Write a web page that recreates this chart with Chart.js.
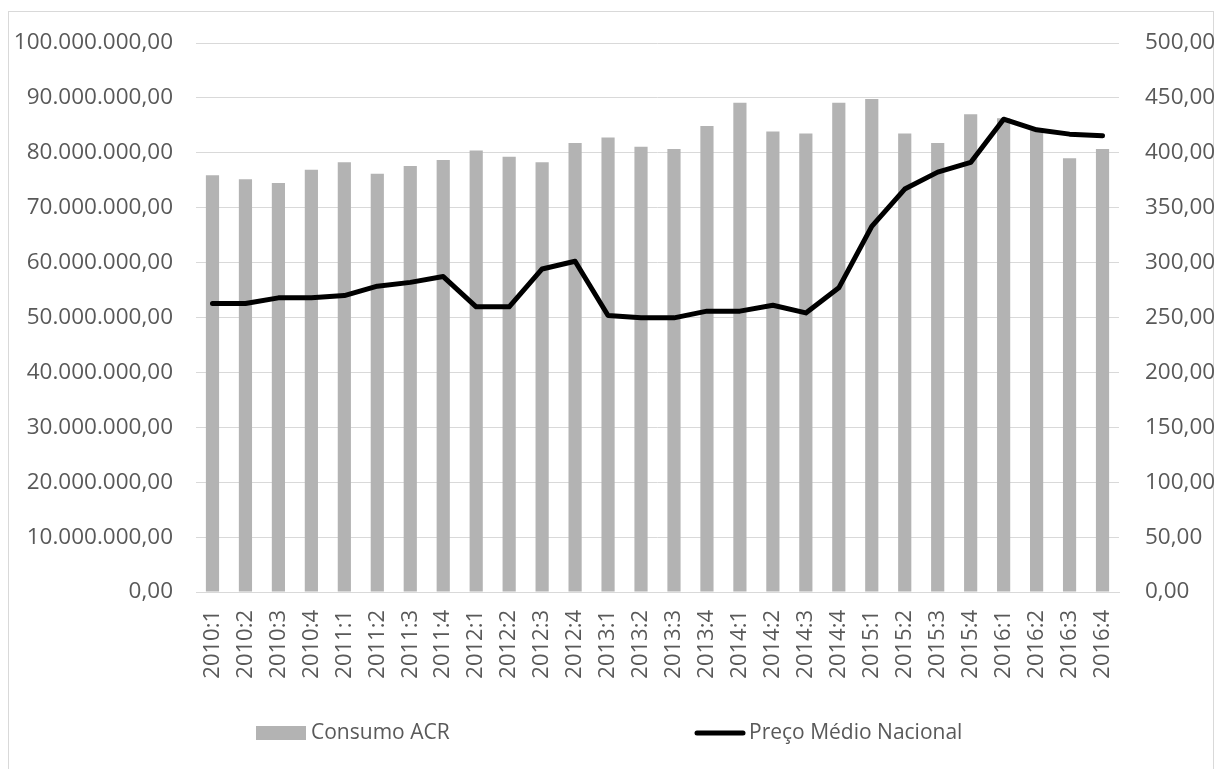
<!DOCTYPE html>
<html>
<head>
<meta charset="utf-8">
<script src="https://cdn.jsdelivr.net/npm/chart.js@4.4.1/dist/chart.umd.min.js"></script>
<style>
  html, body { margin: 0; padding: 0; background: #ffffff; }
  #wrap { width: 1216px; height: 769px; position: relative; }
</style>
</head>
<body>
<div id="wrap"><canvas id="c" width="1216" height="769"></canvas></div>
<script>
const categories = ["2010:1","2010:2","2010:3","2010:4","2011:1","2011:2","2011:3","2011:4",
  "2012:1","2012:2","2012:3","2012:4","2013:1","2013:2","2013:3","2013:4",
  "2014:1","2014:2","2014:3","2014:4","2015:1","2015:2","2015:3","2015:4",
  "2016:1","2016:2","2016:3","2016:4"];
const consumoACR = [75900000,75200000,74500000,76900000,78300000,76200000,77600000,78700000,
  80400000,79300000,78300000,81800000,82800000,81100000,80700000,84900000,
  89100000,83900000,83500000,89100000,89800000,83500000,81800000,87000000,
  86300000,84100000,79000000,80700000];
const precoMedio = [262.7,262.7,267.9,267.9,270.0,278.5,282.0,287.3,
  259.7,259.7,294.2,301.2,251.8,249.7,249.7,255.8,
  255.8,261.2,254.2,277.0,333.0,367.0,382.4,391.2,
  430.6,420.9,417.0,415.5];
const seriesNames = ["Consumo ACR", "Preço Médio Nacional"];
const leftTicks = { min: 0, max: 100000000, step: 10000000 };
const rightTicks = { min: 0, max: 500, step: 50 };

const BAR_COLOR = "#b3b3b3";
const TEXT_COLOR = "#595959";
const GRID_COLOR = "#d9d9d9";
const FONT = "'Open Sans', 'Noto Sans', sans-serif";

function fmtBR(v) {
  const neg = v < 0; v = Math.abs(v);
  const fixed = v.toFixed(2);
  let [ip, dp] = fixed.split(".");
  ip = ip.replace(/\B(?=(\d{3})+(?!\d))/g, ".");
  return (neg ? "-" : "") + ip + "," + dp;
}

const framePlugin = {
  id: "frame",
  beforeDraw(chart) {
    const ctx = chart.ctx;
    ctx.save();
    ctx.fillStyle = "#ffffff";
    ctx.fillRect(0, 0, chart.width, chart.height);
    ctx.strokeStyle = GRID_COLOR;
    ctx.lineWidth = 1;
    ctx.strokeRect(8.5, 11.5, 1205, 800);
    ctx.restore();
  },
  afterDraw(chart) {
    const ctx = chart.ctx;
    const ds = chart.data.datasets;
    ctx.save();
    ctx.font = "21px " + FONT;
    ctx.fillStyle = TEXT_COLOR;
    ctx.textBaseline = "middle";
    ctx.textAlign = "left";
    const y = 733;
    // bar item
    ctx.fillStyle = ds[1].backgroundColor;
    ctx.fillRect(256, y - 7, 50, 14);
    ctx.fillStyle = TEXT_COLOR;
    ctx.fillText(ds[1].label, 311, y);
    // line item
    ctx.strokeStyle = ds[0].borderColor;
    ctx.lineWidth = 5;
    ctx.lineCap = "round";
    ctx.beginPath();
    ctx.moveTo(697, y);
    ctx.lineTo(743, y);
    ctx.stroke();
    ctx.fillText(ds[0].label, 749, y);
    ctx.restore();
  }
};

new Chart(document.getElementById("c"), {
  data: {
    labels: categories,
    datasets: [
      {
        type: "line",
        label: seriesNames[1],
        data: precoMedio,
        yAxisID: "y1",
        borderColor: "#000000",
        backgroundColor: "#000000",
        borderWidth: 5,
        pointRadius: 0,
        tension: 0,
        borderJoinStyle: "round",
        borderCapStyle: "round",
        order: 0
      },
      {
        type: "bar",
        label: seriesNames[0],
        data: consumoACR,
        yAxisID: "y",
        backgroundColor: BAR_COLOR,
        barPercentage: 0.4,
        categoryPercentage: 1.0,
        order: 1
      }
    ]
  },
  plugins: [framePlugin],
  options: {
    responsive: false,
    animation: false,
    devicePixelRatio: 1,
    layout: { padding: { top: 43, left: 9, right: 0, bottom: 0 } },
    plugins: { legend: { display: false }, tooltip: { enabled: false } },
    scales: {
      x: {
        grid: { display: false, drawTicks: false },
        border: { display: true, color: GRID_COLOR, width: 1 },
        ticks: {
          autoSkip: false, minRotation: 90, maxRotation: 90, padding: 18,
          color: TEXT_COLOR, font: { family: FONT, size: 22 }
        },
        afterFit(scale) { scale.height = 177; }
      },
      y: {
        position: "left",
        min: leftTicks.min, max: leftTicks.max,
        grid: { color: GRID_COLOR, drawTicks: false, lineWidth: 1 },
        border: { display: false },
        ticks: {
          stepSize: leftTicks.step, padding: 23, color: TEXT_COLOR,
          font: { family: FONT, size: 22.5 },
          callback: (v) => fmtBR(v)
        },
        afterFit(scale) { scale.width = 187; }
      },
      y1: {
        position: "right",
        min: rightTicks.min, max: rightTicks.max,
        grid: { display: false, drawTicks: false },
        border: { display: false },
        ticks: {
          stepSize: rightTicks.step, padding: 26, color: TEXT_COLOR,
          font: { family: FONT, size: 22.5 },
          callback: (v) => fmtBR(v)
        },
        afterFit(scale) { scale.width = 97; }
      }
    }
  }
});
</script>
</body>
</html>
